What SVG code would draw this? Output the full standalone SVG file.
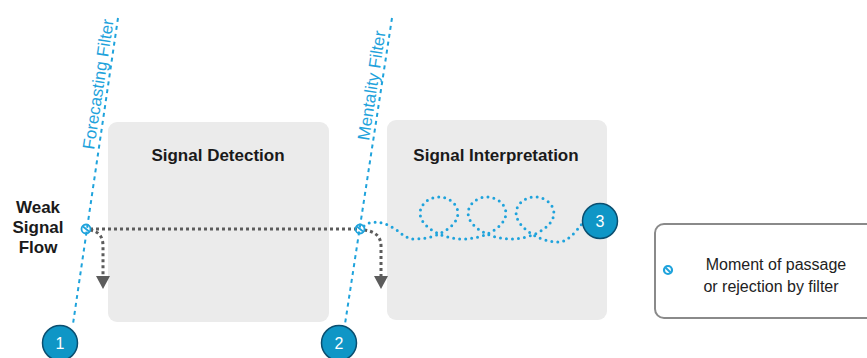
<svg xmlns="http://www.w3.org/2000/svg" width="867" height="358" viewBox="0 0 867 358">
<style>
.box{fill:#ebebeb;stroke:none}
.title{font-family:"Liberation Sans",Arial,sans-serif;font-weight:bold;font-size:17px;fill:#1a1a1a;text-anchor:middle}
.flt{stroke:#1fa3dc;stroke-width:2;stroke-dasharray:4 4;fill:none}
.fltlbl{font-family:"Liberation Sans",Arial,sans-serif;font-size:17px;fill:#1fa3dc}
.num{fill:#0f96c6;stroke:#0b4f70;stroke-width:1.5}
.numt{font-family:"Liberation Sans",Arial,sans-serif;font-size:16px;fill:#fff;text-anchor:middle}
.gray{stroke:#5c5c5c;stroke-width:3;stroke-dasharray:3 3;fill:none}
.blue{stroke:#1fa3dc;stroke-width:3;stroke-dasharray:0 6;stroke-linecap:round;fill:none}
.mom{stroke:#1fa3dc;stroke-width:1.8;fill:none}
.leg{font-family:"Liberation Sans",Arial,sans-serif;font-size:16px;fill:#222;text-anchor:middle}
.ah{fill:#5c5c5c}
</style>

<g id="node-detection">
<rect class="box" x="108" y="122" width="221" height="200" rx="9"/>
<text class="title" x="218" y="161">Signal Detection</text>
</g>
<g id="node-interpretation">
<rect class="box" x="387" y="120" width="220" height="200" rx="9"/>
<text class="title" x="496" y="161">Signal Interpretation</text>
</g>

<g id="label-weak">
<text class="title" x="38" y="213">Weak</text>
<text class="title" x="38" y="233">Signal</text>
<text class="title" x="38" y="253">Flow</text>
</g>

<g id="filter-forecasting">
<line class="flt" x1="118" y1="18" x2="73" y2="324"/>
<text class="fltlbl" transform="translate(94,150) rotate(-81.4)">Forecasting Filter</text>
</g>
<g id="filter-mentality">
<line class="flt" x1="392" y1="18" x2="345" y2="324"/>
<text class="fltlbl" transform="translate(369,141) rotate(-81.4)">Mentality Filter</text>
</g>

<g id="connectors">
<path class="gray" d="M90,229 L357,229"/>
<path class="gray" d="M90,230 Q103,232 103,246 L103,276"/>
<polygon class="ah" points="96,276 110,276 103,289"/>
<path class="gray" d="M364,230 Q381,232 381,246 L381,276"/>
<polygon class="ah" points="374,276 388,276 381,289"/>
<path class="blue" d="M364,226 C372,219 386,222 398,231 C404,236 408,239 415,239
C434.7,239 453,229 457,218 C461,207 450.7,197 439,197 C427.3,197 417,207 421,218 C425,229 443.3,239 463,239
C482.7,239 501,229 505,218 C509,207 498.7,197 487,197 C475.3,197 465,207 469,218 C473,229 491.3,239 511,239
C530.7,239 549,229 553,218 C557,207 546.7,197 535,197 C523.3,197 513,207 517,218 C521,229 539.3,242 559,242
C568,242 576,231 582,224"/>
</g>

<g id="moment-1">
<circle class="mom" cx="86" cy="229" r="4.5"/>
<line class="mom" x1="83" y1="226.5" x2="89" y2="231.5"/>
</g>
<g id="moment-2">
<circle class="mom" cx="360" cy="229" r="4.5"/>
<line class="mom" x1="357" y1="226.5" x2="363" y2="231.5"/>
</g>

<g id="marker-1">
<circle class="num" cx="60" cy="343" r="17.5"/>
<text class="numt" x="60" y="349">1</text>
</g>
<g id="marker-2">
<circle class="num" cx="339" cy="343" r="17.5"/>
<text class="numt" x="339" y="349">2</text>
</g>
<g id="marker-3">
<circle class="num" cx="600" cy="221" r="17.5"/>
<text class="numt" x="600" y="227">3</text>
</g>

<g id="legend">
<rect x="655" y="224" width="220" height="94" rx="9" fill="#fff" stroke="#8a8a8a" stroke-width="2"/>
<circle cx="668" cy="270" r="4" fill="none" stroke="#1fa3dc" stroke-width="2.2"/>
<line x1="665.5" y1="267.5" x2="670.5" y2="272.5" stroke="#1fa3dc" stroke-width="2"/>
<text class="leg" x="776" y="270">Moment of passage</text>
<text class="leg" x="771" y="292">or rejection by filter</text>
</g>
</svg>
